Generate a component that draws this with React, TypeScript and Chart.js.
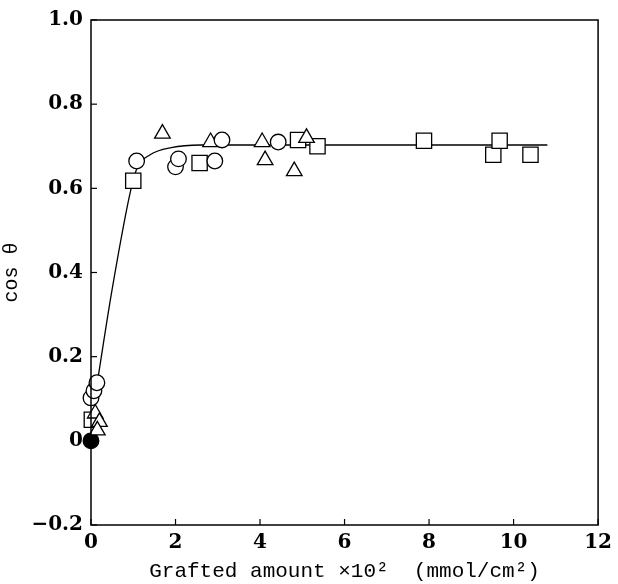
import React, { useEffect, useRef } from "react";
import { Chart, registerables } from "chart.js";

Chart.register(...registerables);

// Data
const circles = [
  { x: 0.0, y: 0.102 }, { x: 0.07, y: 0.119 }, { x: 0.14, y: 0.138 },
  { x: 1.08, y: 0.665 }, { x: 2.0, y: 0.651 }, { x: 2.07, y: 0.67 },
  { x: 2.93, y: 0.665 }, { x: 3.1, y: 0.715 }, { x: 4.43, y: 0.71 },
];
const triangles = [
  { x: 0.1, y: 0.065 }, { x: 0.2, y: 0.045 }, { x: 0.15, y: 0.025 },
  { x: 1.69, y: 0.73 }, { x: 2.83, y: 0.71 }, { x: 4.05, y: 0.71 },
  { x: 4.12, y: 0.667 }, { x: 4.81, y: 0.641 }, { x: 5.1, y: 0.72 },
];
const squares = [
  { x: 0.02, y: 0.05 }, { x: 1.0, y: 0.618 }, { x: 2.57, y: 0.66 },
  { x: 4.9, y: 0.715 }, { x: 5.36, y: 0.70 }, { x: 7.88, y: 0.713 },
  { x: 9.52, y: 0.68 }, { x: 9.67, y: 0.713 }, { x: 10.4, y: 0.68 },
];
const filled = [{ x: 0, y: 0 }];
const curve = [
  { x: 0.12, y: 0.12 }, { x: 0.5, y: 0.36 }, { x: 0.95, y: 0.6 },
  { x: 1.1, y: 0.65 }, { x: 1.4, y: 0.68 }, { x: 1.9, y: 0.697 },
  { x: 2.6, y: 0.703 }, { x: 10.8, y: 0.703 },
];
const xTicks = [0, 2, 4, 6, 8, 10, 12];
const xTickLabels = ["0", "2", "4", "6", "8", "10", "12"];
const yTicks = [-0.2, 0, 0.2, 0.4, 0.6, 0.8, 1.0];
const yTickLabels = ["\u22120.2", "0", "0.2", "0.4", "0.6", "0.8", "1.0"];
const xTitle = "Grafted amount \u00d710\u00b2  (mmol/cm\u00b2)";
const yTitle = "cos \u03b8";

const frame = {
  id: "frame",
  afterDraw(chart: any) {
    const { ctx, chartArea: a, scales } = chart;
    ctx.save();
    ctx.strokeStyle = "#000";
    ctx.lineWidth = 1.5;
    ctx.strokeRect(a.left, a.top, a.right - a.left, a.bottom - a.top);
    ctx.lineWidth = 1.2;
    const len = 6;
    scales.x.ticks.forEach((t: any) => {
      const px = scales.x.getPixelForValue(t.value);
      ctx.beginPath();
      ctx.moveTo(px, a.bottom);
      ctx.lineTo(px, a.bottom - len);
      ctx.stroke();
    });
    scales.y.ticks.forEach((t: any) => {
      const py = scales.y.getPixelForValue(t.value);
      ctx.beginPath();
      ctx.moveTo(a.left, py);
      ctx.lineTo(a.left + len, py);
      ctx.stroke();
    });
    ctx.restore();
  },
};

export default function App() {
  const ref = useRef<HTMLCanvasElement>(null);
  useEffect(() => {
    document.body.style.margin = "0";
    const marker = (data: any[], style: string, r: number, fill = "#fff") => ({
      data,
      pointStyle: style,
      pointRadius: r,
      pointBackgroundColor: fill,
      pointBorderColor: "#000",
      pointBorderWidth: 1.3,
      showLine: false,
      clip: false,
      order: 0,
    });
    const chart = new Chart(ref.current!, {
      type: "scatter",
      data: {
        datasets: [
          {
            data: curve,
            showLine: true,
            pointRadius: 0,
            borderColor: "#000",
            borderWidth: 1.3,
            cubicInterpolationMode: "monotone",
            clip: false,
            order: 10,
          } as any,
          marker(circles, "circle", 7.8),
          marker(triangles, "triangle", 9),
          marker(squares, "rect", 10.8),
          marker(filled, "circle", 7.8, "#000"),
        ],
      },
      options: {
        animation: false,
        responsive: false,
        layout: { padding: { top: 20, right: 19, left: 0, bottom: 0 } },
        plugins: { legend: { display: false }, tooltip: { enabled: false } },
        scales: {
          x: {
            type: "linear",
            min: 0,
            max: 12,
            afterBuildTicks: (s: any) => { s.ticks = xTicks.map((v) => ({ value: v })); },
            afterFit: (s: any) => { s.height = 59; },
            grid: { display: false, drawTicks: false },
            border: { display: false },
            ticks: {
              padding: 6,
              color: "#000",
              font: { family: "DejaVu Serif", size: 20, weight: "bold" },
              callback: (v: any) => xTickLabels[xTicks.indexOf(Number(v))] ?? "",
              maxRotation: 0,
            },
            title: {
              display: true,
              text: xTitle,
              color: "#000",
              font: { family: "Liberation Mono", size: 21 },
              padding: { top: 0, bottom: 0 },
            },
          },
          y: {
            type: "linear",
            min: -0.2,
            max: 1.0,
            afterBuildTicks: (s: any) => { s.ticks = yTicks.map((v) => ({ value: v })); },
            afterFit: (s: any) => { s.width = 91; },
            grid: { display: false, drawTicks: false },
            border: { display: false },
            ticks: {
              padding: 8,
              color: "#000",
              font: { family: "DejaVu Serif", size: 20, weight: "bold" },
              callback: (v: any) => {
                const i = yTicks.findIndex((t) => Math.abs(t - Number(v)) < 1e-9);
                return i >= 0 ? yTickLabels[i] : "";
              },
            },
            title: {
              display: true,
              text: yTitle,
              color: "#000",
              font: { family: "Liberation Mono", size: 20 },
              padding: { top: 0, bottom: 0 },
            },
          },
        },
      },
      plugins: [frame],
    });
    return () => chart.destroy();
  }, []);
  return (
    <div style={{ width: 618, height: 584 }}>
      <canvas ref={ref} width={618} height={584} />
    </div>
  );
}
